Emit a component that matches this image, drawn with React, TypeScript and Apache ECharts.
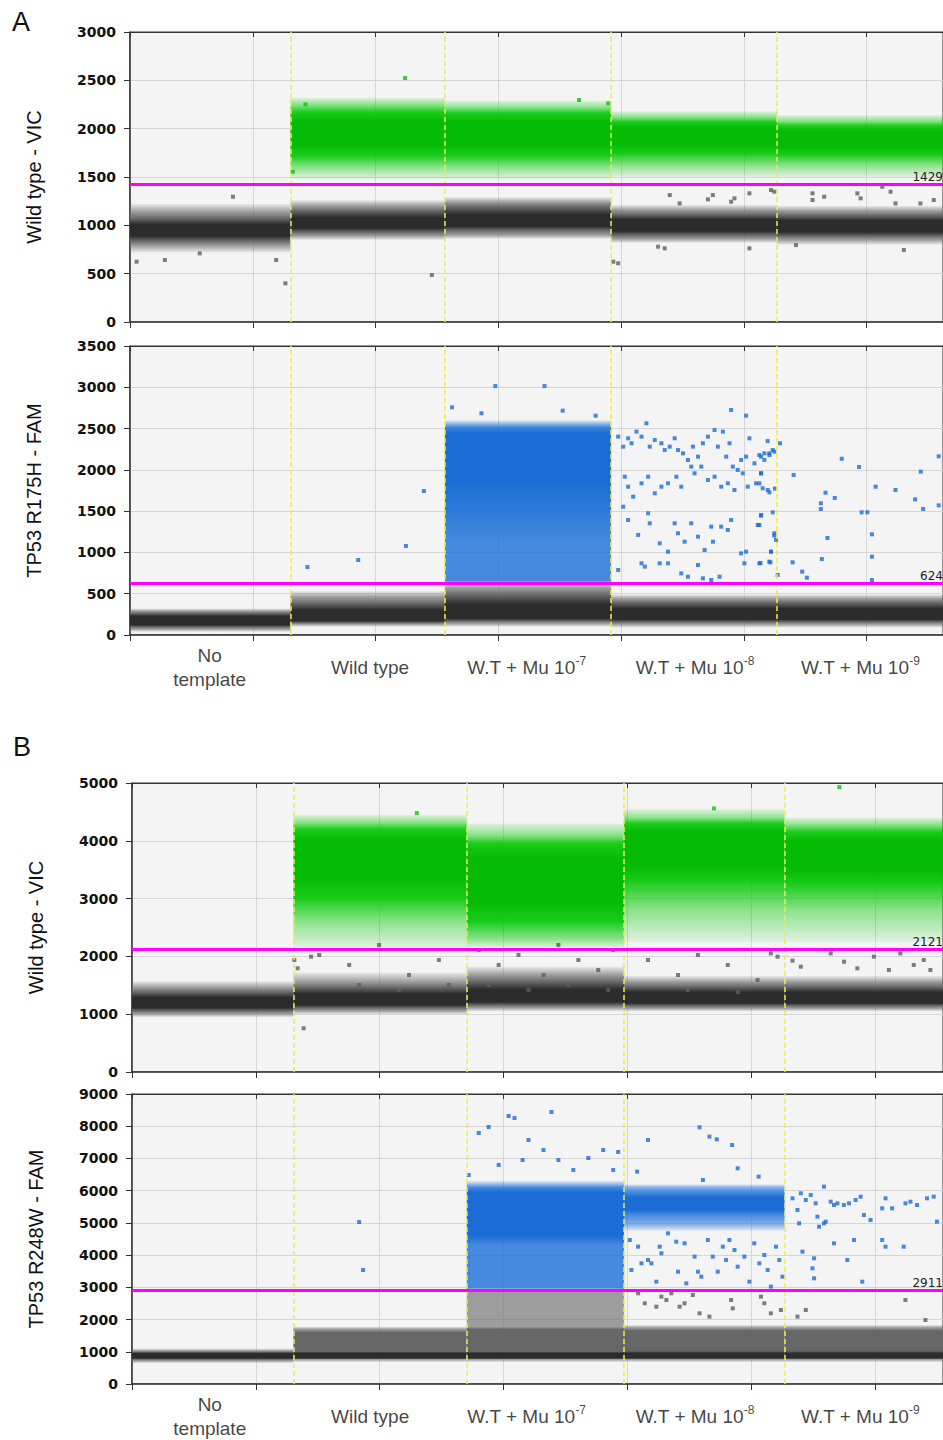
import React, { useEffect, useRef } from "react";
import * as echarts from "echarts";

// ---------- x positions (droplet event number) ----------
const X_MAX_A = 6623;
const X_MAX_B = 6549;
const X_TICK = 1000;
const WELL_EDGES_A = [1307, 2565, 3920, 5270];
const WELL_EDGES_B = [1303, 2703, 3974, 5270];
const LABEL_X_A = [649, 1956, 3231, 4602, 5950];
const LABEL_X_B = [628, 1923, 3186, 4546, 5881];
const WELL_NAMES = ["No\ntemplate", "Wild type", "W.T + Mu 10", "W.T + Mu 10", "W.T + Mu 10"];
const WELL_EXP = ["", "", "-7", "-8", "-9"];

// ---------- axes ----------
const Y_MAX = [3000, 3500, 5000, 9000];
const Y_INTERVAL = [500, 500, 1000, 1000];
const Y_NAMES = ["Wild type - VIC", "TP53 R175H - FAM", "Wild type - VIC", "TP53 R248W - FAM"];
const THRESHOLDS = [1429, 624, 2121, 2911];

// ---------- droplet clusters: [xStart, xEnd, amplitude profile, density at each amplitude (0 faint .. 3 dense)] ----------
const GRAY_A_VIC = [
  [0, 1307, [720, 790, 840, 890, 1010, 1070, 1140, 1220], [0, 1, 2, 3, 3, 2, 1, 0]],
  [1307, 2565, [850, 890, 930, 970, 1080, 1150, 1200, 1260], [0, 1, 2, 3, 3, 2, 1, 0]],
  [2565, 3920, [860, 900, 950, 990, 1110, 1190, 1240, 1290], [0, 1, 2, 3, 3, 2, 1, 0]],
  [3920, 5270, [820, 860, 900, 940, 1060, 1110, 1160, 1210], [0, 1, 2, 3, 3, 2, 1, 0]],
  [5270, 6623, [800, 850, 890, 930, 1050, 1100, 1150, 1200], [0, 1, 2, 3, 3, 2, 1, 0]],
];
const GREEN_A_VIC = [
  [1307, 2565, [1480, 1600, 1720, 1830, 2070, 2170, 2250, 2320], [0, 1, 2, 3, 3, 2, 1, 0]],
  [2565, 3920, [1480, 1600, 1720, 1830, 2070, 2160, 2220, 2290], [0, 1, 2, 3, 3, 2, 1, 0]],
  [3920, 5270, [1500, 1620, 1740, 1840, 2010, 2070, 2120, 2180], [0, 1, 2, 3, 3, 2, 1, 0]],
  [5270, 6623, [1500, 1620, 1730, 1810, 1970, 2030, 2080, 2140], [0, 1, 2, 3, 3, 2, 1, 0]],
];
const GRAY_A_FAM = [
  [0, 1307, [40, 70, 100, 120, 230, 260, 290, 320], [0, 1, 2, 3, 3, 2, 1, 0]],
  [1307, 2565, [100, 130, 150, 170, 300, 380, 460, 530], [0, 1, 2, 3, 3, 2, 1, 0]],
  [2565, 3920, [100, 140, 170, 200, 370, 480, 570, 640], [0, 1, 2, 3, 3, 2, 1, 0]],
  [3920, 5270, [90, 130, 160, 190, 320, 390, 440, 490], [0, 1, 2, 3, 3, 2, 1, 0]],
  [5270, 6623, [90, 130, 160, 190, 320, 390, 440, 490], [0, 1, 2, 3, 3, 2, 1, 0]],
];
const BLUE_A_FAM = [
  [2565, 3920, [640, 660, 1100, 1850, 2450, 2520, 2600], [1, 2, 2, 3, 3, 2, 0]],
];
const GRAY_B_VIC = [
  [0, 1303, [950, 1010, 1060, 1110, 1290, 1380, 1460, 1570], [0, 1, 2, 3, 3, 2, 1, 0]],
  [1303, 2703, [1000, 1060, 1110, 1160, 1350, 1460, 1560, 1720], [0, 1, 2, 3, 3, 2, 1, 0]],
  [2703, 3974, [1050, 1110, 1160, 1210, 1430, 1560, 1680, 1820], [0, 1, 2, 3, 3, 2, 1, 0]],
  [3974, 5270, [1050, 1100, 1150, 1190, 1380, 1470, 1560, 1660], [0, 1, 2, 3, 3, 2, 1, 0]],
  [5270, 6549, [1050, 1100, 1150, 1190, 1380, 1470, 1560, 1660], [0, 1, 2, 3, 3, 2, 1, 0]],
];
const GREEN_B_VIC = [
  [1303, 2703, [2150, 2600, 3000, 3350, 4000, 4200, 4320, 4450], [0, 1, 2, 3, 3, 2, 1, 0]],
  [2703, 3974, [2150, 2300, 2600, 2950, 3700, 3950, 4100, 4300], [0, 1, 2, 3, 3, 2, 1, 0]],
  [3974, 5270, [2250, 2800, 3300, 3550, 4150, 4300, 4400, 4550], [0, 1, 2, 3, 3, 2, 1, 0]],
  [5270, 6549, [2250, 2800, 3250, 3500, 4000, 4150, 4280, 4400], [0, 1, 2, 3, 3, 2, 1, 0]],
];
const GRAY_B_FAM = [
  [0, 1303, [650, 720, 770, 800, 950, 990, 1030, 1100], [0, 1, 2, 3, 3, 2, 1, 0]],
  [1303, 2703, [680, 760, 800, 960, 1010, 1600, 1700, 1780], [0, 1, 3, 3, 2, 2, 1, 0]],
  [2703, 3974, [680, 760, 800, 960, 1010, 1700, 1780, 2900, 2950], [0, 1, 3, 3, 2, 2, 1, 1, 0]],
  [3974, 5270, [680, 760, 800, 960, 1020, 1650, 1750, 1830], [0, 1, 3, 3, 2, 2, 1, 0]],
  [5270, 6549, [680, 760, 800, 960, 1020, 1650, 1750, 1830], [0, 1, 3, 3, 2, 2, 1, 0]],
];
const BLUE_B_FAM = [
  [2703, 3974, [2950, 3000, 4300, 4600, 5950, 6100, 6300], [1, 2, 2, 3, 3, 2, 0]],
  [3974, 5270, [4750, 4950, 5250, 5400, 5800, 5950, 6100, 6200], [0, 1, 2, 3, 3, 2, 1, 0]],
];

// ---------- individual (sparse) droplets: [event, amplitude] ----------
const GRAY_PTS_A_VIC = [
  [54, 624], [284, 641], [568, 710], [839, 1296], [1191, 641], [1266, 400], [2459, 486],
  [4397, 1313], [4478, 1227], [4708, 1269], [4748, 1313], [4897, 1244], [4924, 1279], [5046, 1331],
  [5222, 1365], [5249, 1348], [5560, 1331], [5560, 1262], [5655, 1296], [5925, 1331], [5952, 1279],
  [6128, 1399], [6196, 1348], [6236, 1227], [6439, 1227], [6548, 1262], [4302, 779], [4356, 762],
  [5046, 762], [5425, 796], [6304, 745], [3937, 624], [3977, 607],
];
const GREEN_PTS_A_VIC = [[2240, 2523], [1429, 2251], [3658, 2296], [3896, 2262], [1326, 1554]];
const BLUE_PTS_A_FAM = [
  [1445, 823], [1859, 908], [2248, 1078], [2394, 1744],
  [2976, 3015], [3377, 3015], [2624, 2757], [2863, 2685], [3525, 2717], [3793, 2656],
  [3977, 2402], [4018, 2281], [4058, 2382], [4086, 2322], [4126, 2463], [4167, 2402], [4207, 2564],
  [4234, 2281], [4275, 2362], [4329, 2322], [4356, 2240], [4397, 2281], [4437, 2382], [4464, 2240],
  [4505, 2200], [4545, 2120], [4586, 2281], [4627, 2160], [4667, 2322], [4708, 2402], [4762, 2483],
  [4789, 2281], [4830, 2463], [4857, 2160], [4884, 2322], [4911, 2039], [4951, 1998], [4978, 2120],
  [5019, 2160], [5046, 2382], [5087, 2079], [5127, 2180], [5168, 2120], [5208, 2200], [5249, 2220],
  [4031, 1917], [4058, 1796], [4099, 1675], [4167, 1837], [4221, 1917], [4275, 1716], [4329, 1796],
  [4383, 1837], [4451, 1917], [4491, 1796], [4572, 2039], [4599, 1958], [4654, 2039], [4708, 1877],
  [4762, 1917], [4816, 1796], [4870, 1837], [4924, 1756], [4992, 1958], [5032, 1796], [5100, 1837],
  [5141, 1958], [5195, 1756],
  [4018, 1554], [4058, 1393], [4140, 1212], [4221, 1474], [4234, 1353], [4315, 1110], [4383, 1009],
  [4437, 1353], [4464, 1232], [4518, 1130], [4572, 1353], [4627, 1191], [4681, 1029], [4735, 1312],
  [4749, 1130], [4816, 1312], [4870, 1272], [4897, 1393], [4978, 989], [5019, 1009], [5114, 1332],
  [5141, 1453], [5222, 1009], [5249, 1232],
  [3977, 787], [4167, 868], [4194, 828], [4315, 868], [4383, 868], [4491, 746], [4545, 706],
  [4627, 848], [4667, 686], [4735, 666], [4803, 706], [5005, 868], [5127, 868], [5208, 888],
  [4897, 2725], [5019, 2656], [5295, 2322],
  [5195, 2349], [5168, 2200], [5141, 2160], [5209, 2180], [5236, 2240], [5141, 1958], [5127, 1837],
  [5154, 1777], [5209, 1728], [5254, 1773], [5141, 1445], [5236, 1486], [5127, 1332], [5249, 1203],
  [5263, 1151], [5222, 1009], [5217, 880], [5136, 871], [5276, 727],
  [5798, 2135], [5939, 2035], [5406, 1938], [6074, 1796], [6236, 1756], [5666, 1723], [5741, 1659],
  [5628, 1595], [5628, 1526], [5960, 1486], [6007, 1486], [6396, 1643], [6461, 1526], [6442, 1978],
  [6588, 2164], [6588, 1570], [5682, 1175], [6044, 1219], [5636, 920], [6044, 948], [5398, 880],
  [5476, 767], [5514, 694], [6044, 666],
];
const GRAY_PTS_B_VIC = [
  [1311, 1938], [1338, 1794], [1446, 1995], [1386, 756],
  [1512, 2024], [1754, 1851], [1995, 2197], [2237, 1678], [2478, 1938], [1834, 1505], [2156, 1419], [2558, 1505],
  [2800, 2111], [2961, 1851], [3121, 2024], [3323, 1678], [3443, 2197], [3604, 1938], [3765, 1765],
  [3886, 2111], [2880, 1505], [3202, 1419], [3524, 1505], [3846, 1419],
  [4167, 1938], [4409, 1678], [4570, 2024], [4811, 1851], [5052, 1592], [4489, 1419], [4891, 1384],
  [5159, 2053], [5213, 1995], [5334, 1926], [5401, 1822], [5642, 2053], [5750, 1908], [5857, 1794],
  [5991, 1995], [6112, 1765], [6205, 2053], [6313, 1851], [6393, 1938], [6447, 1765],
];
const GREEN_PTS_B_VIC = [[5712, 4931], [2300, 4480], [4700, 4560]];
const GRAY_PTS_B_FAM = [
  [4087, 2814], [4141, 2504], [4234, 2400], [4275, 2711], [4315, 2607], [4355, 2814], [4422, 2400],
  [4462, 2504], [4529, 2762], [4583, 2193], [4663, 2090], [4838, 2607], [4851, 2348], [5079, 2711],
  [5106, 2504], [5159, 2193], [5240, 2297], [5374, 2090], [5441, 2297], [6246, 2607], [6407, 1986],
];
const BLUE_PTS_B_FAM = [
  [1834, 5028], [1866, 3538],
  [2800, 7790], [2880, 7976], [3041, 8318], [3089, 8256], [3387, 8442], [3202, 7573], [3323, 7262],
  [3443, 6952], [3685, 7014], [3805, 7262], [3926, 7200], [2961, 6797], [3564, 6642], [2719, 6487],
  [3886, 6642], [3154, 6952],
  [4020, 4469], [4033, 3538], [4087, 4262], [4114, 3745], [4167, 3849], [4194, 3745], [4234, 3176],
  [4261, 4262], [4275, 4056], [4328, 4676], [4395, 4417], [4409, 3486], [4462, 4366], [4476, 3124],
  [4543, 3952], [4570, 3486], [4597, 3331], [4650, 4469], [4690, 3952], [4730, 3486], [4771, 4262],
  [4797, 3849], [4824, 4469], [4865, 4159], [4891, 3641], [4945, 3952], [4985, 3176], [5025, 4366],
  [5066, 3745], [5106, 4004], [5133, 3538], [5159, 3021], [5200, 4262], [5227, 3849], [5253, 3331],
  [4167, 7573], [4583, 7967], [4663, 7677], [4722, 7594], [4846, 7418], [4891, 6694], [5060, 6435],
  [4079, 6590], [4610, 6331],
  [5334, 5762], [5374, 5400], [5401, 5918], [5441, 5711], [5481, 5866], [5521, 5607], [5535, 5193],
  [5588, 6125], [5602, 5038], [5642, 5659], [5669, 5556], [5696, 5607], [5749, 5556], [5790, 5607],
  [5843, 5711], [5884, 5814], [5910, 5245], [5964, 5090], [6058, 5452], [6085, 5762], [6138, 5452],
  [6246, 5607], [6286, 5659], [6339, 5556], [6420, 5762], [6474, 5814], [6500, 5038], [5387, 4986],
  [5414, 4107], [5508, 3900], [5548, 4883], [5588, 4986], [5669, 4366], [5776, 3849], [5830, 4469],
  [5897, 3176], [6058, 4469], [6085, 4262], [6232, 4262], [5495, 3590], [5508, 3279],
];

// ---------- styles ----------
const SHADES = {
  gray: ["rgba(120,120,120,0.1)", "rgba(110,110,110,0.65)", "#676767", "#2c2c2c"],
  green: ["rgba(10,205,10,0.08)", "rgba(10,205,10,0.45)", "rgba(8,200,8,0.92)", "#05bb05"],
  blue: ["rgba(26,112,218,0.08)", "rgba(26,112,218,0.5)", "rgba(26,112,218,0.8)", "#1b6dd5"],
};
const DOT = { gray: "#5e5e5e", green: "#0cc00c", blue: "#1a6dd6" };

const GRIDS = [
  { left: 130, top: 32, height: 290, xMax: X_MAX_A },
  { left: 130, top: 346, height: 289, xMax: X_MAX_A },
  { left: 132, top: 783, height: 289, xMax: X_MAX_B },
  { left: 132, top: 1094, height: 290, xMax: X_MAX_B },
];

function bandSeries(gridIndex: number, clusters: any[], shades: string[]) {
  const data = clusters.map((c, i) => [c[0], c[1], Math.min(...c[2]), Math.max(...c[2]), i]);
  return {
    type: "custom",
    xAxisIndex: gridIndex * 2,
    yAxisIndex: gridIndex,
    silent: true,
    z: 2,
    encode: { x: [0, 1], y: [2, 3] },
    data,
    renderItem: (params: any, api: any) => {
      const c = clusters[api.value(4)];
      const ys: number[] = c[2];
      const lv: number[] = c[3];
      const yLo = Math.min(...ys);
      const yHi = Math.max(...ys);
      const p0 = api.coord([api.value(0), yHi]);
      const p1 = api.coord([api.value(1), yLo]);
      const stops = ys
        .map((y, k) => ({ offset: (yHi - y) / (yHi - yLo), color: shades[lv[k]] }))
        .sort((a, b) => a.offset - b.offset);
      return {
        type: "rect",
        shape: { x: p0[0], y: p0[1], width: p1[0] - p0[0], height: p1[1] - p0[1] },
        style: { fill: new echarts.graphic.LinearGradient(0, 0, 0, 1, stops) },
      };
    },
  };
}

function pointSeries(gridIndex: number, groups: [number[][], string][], threshold: number, edges: number[]) {
  const data: any[] = [];
  groups.forEach(([pts, color]) => {
    pts.forEach((p) => data.push({ value: p, itemStyle: { color } }));
  });
  return {
    type: "scatter",
    xAxisIndex: gridIndex * 2,
    yAxisIndex: gridIndex,
    silent: true,
    z: 3,
    symbol: "rect",
    symbolSize: 4,
    data,
    markLine: {
      silent: true,
      symbol: "none",
      animation: false,
      data: [
        ...edges.map((e) => ({
          xAxis: e,
          lineStyle: { color: "#eded3c", width: 1.5, type: [5, 3] },
          label: { show: false },
        })),
        {
          yAxis: threshold,
          lineStyle: { color: "#ff00ff", width: 3, type: "solid" },
          label: {
            show: true,
            position: "insideEndTop",
            formatter: String(threshold),
            color: "#222",
            fontSize: 12,
            fontFamily: "DejaVu Sans",
            distance: [0, 1],
          },
        },
      ],
    },
  };
}

function labelSeries(gridIndex: number, xs: number[]) {
  return {
    type: "scatter",
    xAxisIndex: gridIndex * 2,
    yAxisIndex: gridIndex,
    silent: true,
    z: 4,
    symbolSize: 0,
    data: xs.map((x, i) => ({ value: [x, 0], name: String(i) })),
    label: {
      show: true,
      position: "inside",
      offset: [0, 32],
      color: "#111",
      fontSize: 19,
      lineHeight: 24,
      fontFamily: "'Liberation Sans', Arial, sans-serif",
      formatter: (p: any) => {
        const i = Number(p.name);
        return WELL_NAMES[i] + (WELL_EXP[i] ? `{s|${WELL_EXP[i]}}` : "");
      },
      rich: {
        s: { fontSize: 12, lineHeight: 12, verticalAlign: "top", color: "#111", fontFamily: "'Liberation Sans', Arial, sans-serif" },
      },
    },
  };
}

export default function App() {
  const ref = useRef<HTMLDivElement>(null);
  useEffect(() => {
    if (!ref.current) return;
    const chart = echarts.init(ref.current, undefined, { renderer: "svg" });
    const grid = GRIDS.map((g) => ({
      left: g.left,
      top: g.top,
      height: g.height,
      right: -3,
      show: true,
      backgroundColor: "#f4f4f4",
      borderColor: "#333",
      borderWidth: 1,
    }));
    const xAxis: any[] = [];
    GRIDS.forEach((g, i) => {
      xAxis.push({
        type: "value",
        gridIndex: i,
        min: 0,
        max: g.xMax,
        interval: X_TICK,
        position: "bottom",
        axisLine: { show: true, onZero: false, lineStyle: { color: "#333", width: 1.5 } },
        axisTick: { show: true, length: 6, lineStyle: { color: "#333" } },
        axisLabel: { show: false },
        splitLine: { show: true, lineStyle: { color: "#d6d6d6" } },
      });
      xAxis.push({
        type: "value",
        gridIndex: i,
        min: 0,
        max: g.xMax,
        interval: X_TICK,
        position: "top",
        axisLine: { show: true, onZero: false, lineStyle: { color: "#333", width: 1 } },
        axisTick: { show: true, inside: true, length: 5, lineStyle: { color: "#333" } },
        axisLabel: { show: false },
        splitLine: { show: false },
      });
    });
    const yAxis = GRIDS.map((g, i) => ({
      type: "value",
      gridIndex: i,
      min: 0,
      max: Y_MAX[i],
      interval: Y_INTERVAL[i],
      name: Y_NAMES[i],
      nameLocation: "middle",
      nameGap: 86,
      nameTextStyle: { fontFamily: "'Liberation Sans', Arial, sans-serif", fontSize: 20, color: "#111" },
      axisLine: { show: true, lineStyle: { color: "#333", width: 1.5 } },
      axisTick: { show: true, length: 6, lineStyle: { color: "#333" } },
      axisLabel: {
        fontFamily: "'DejaVu Sans', sans-serif",
        fontWeight: "bold",
        fontSize: 14,
        color: "#111",
        margin: 14,
        formatter: (v: number) => String(v),
      },
      splitLine: { show: true, lineStyle: { color: "#d6d6d6" } },
    }));
    const series: any[] = [
      bandSeries(0, GRAY_A_VIC, SHADES.gray),
      bandSeries(0, GREEN_A_VIC, SHADES.green),
      pointSeries(0, [[GRAY_PTS_A_VIC, DOT.gray], [GREEN_PTS_A_VIC, DOT.green]], THRESHOLDS[0], WELL_EDGES_A),
      bandSeries(1, GRAY_A_FAM, SHADES.gray),
      bandSeries(1, BLUE_A_FAM, SHADES.blue),
      pointSeries(1, [[BLUE_PTS_A_FAM, DOT.blue]], THRESHOLDS[1], WELL_EDGES_A),
      labelSeries(1, LABEL_X_A),
      bandSeries(2, GRAY_B_VIC, SHADES.gray),
      bandSeries(2, GREEN_B_VIC, SHADES.green),
      pointSeries(2, [[GRAY_PTS_B_VIC, DOT.gray], [GREEN_PTS_B_VIC, DOT.green]], THRESHOLDS[2], WELL_EDGES_B),
      bandSeries(3, GRAY_B_FAM, SHADES.gray),
      bandSeries(3, BLUE_B_FAM, SHADES.blue),
      pointSeries(3, [[GRAY_PTS_B_FAM, DOT.gray], [BLUE_PTS_B_FAM, DOT.blue]], THRESHOLDS[3], WELL_EDGES_B),
      labelSeries(3, LABEL_X_B),
    ];
    chart.setOption({
      animation: false,
      backgroundColor: "#ffffff",
      grid,
      xAxis,
      yAxis,
      series,
      graphic: [
        { type: "text", left: 12, top: 8, style: { text: "A", fontSize: 27, fontFamily: "'Liberation Sans', Arial, sans-serif", fill: "#111" } },
        { type: "text", left: 13, top: 733, style: { text: "B", fontSize: 27, fontFamily: "'Liberation Sans', Arial, sans-serif", fill: "#111" } },
      ],
    });
    return () => chart.dispose();
  }, []);
  return (
    <div style={{ position: "absolute", left: 0, top: 0, width: 943, height: 1440, overflow: "hidden", background: "#fff" }}>
      <div ref={ref} style={{ width: 943, height: 1440 }} />
    </div>
  );
}
